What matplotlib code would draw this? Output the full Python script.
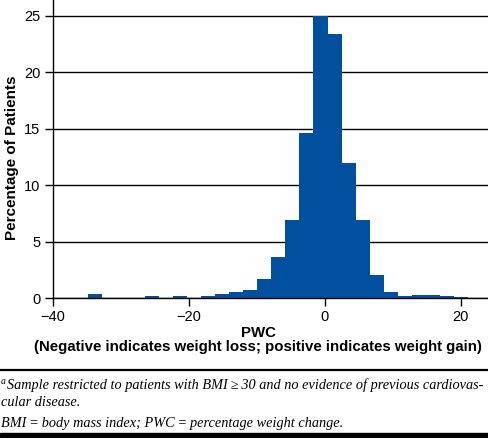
import matplotlib
matplotlib.use("Agg")
import matplotlib.pyplot as plt
from matplotlib.lines import Line2D
from matplotlib.patches import Rectangle

# Histogram of percentage weight change (bin centres, % of patients)
bin_centers = [-33.77, -25.49, -21.35, -17.21, -15.14, -13.07, -11.00, -8.93,
               -6.86, -4.79, -2.72, -0.65, 1.43, 3.50, 5.57, 7.64, 9.71,
               11.78, 13.85, 15.92, 17.99, 20.06]
percentages = [0.33, 0.20, 0.20, 0.20, 0.33, 0.56, 0.74, 1.71,
               3.67, 6.95, 14.58, 25.0, 23.37, 12.0, 6.95, 2.07, 0.56,
               0.20, 0.30, 0.30, 0.20, 0.12]
bin_width = 2.08
x_ticks = [-40, -20, 0, 20]
y_ticks = [0, 5, 10, 15, 20, 25]

BAR = "#00509F"
plt.rcParams['font.family'] = ['Liberation Sans', 'DejaVu Sans']

fig = plt.figure(figsize=(4.88, 4.38), dpi=100)
ax = fig.add_axes([53 / 488, 140 / 438, 1 - 53 / 488, 298 / 438])

ax.bar(bin_centers, percentages, width=bin_width, color=BAR, linewidth=0,
       zorder=3)
ax.set_xlim(-40, 24)
ax.set_ylim(0, 26.4)
ax.set_xticks(x_ticks)
ax.set_yticks(y_ticks)
ax.yaxis.grid(True, color="black", linewidth=1.0, zorder=1)
ax.set_axisbelow(True)
for s in ["top", "right"]:
    ax.spines[s].set_visible(False)
for s in ["left", "bottom"]:
    ax.spines[s].set_linewidth(1.0)
    ax.spines[s].set_zorder(4)
ax.tick_params(axis="both", labelsize=10.5, length=5.5, width=1.0,
               color="black", labelcolor="black")
ax.tick_params(axis="y", pad=3.5)
ax.tick_params(axis="x", pad=3)

fig.text(12 / 488, 1 - 158 / 438, "Percentage of Patients", rotation=90,
         ha="center", va="center", fontsize=11, fontweight="bold")
fig.text(258 / 488, 1 - 333 / 438, "PWC", ha="center", va="center",
         fontsize=10.8, fontweight="bold")
fig.text(258 / 488, 1 - 347 / 438,
         "(Negative indicates weight loss; positive indicates weight gain)",
         ha="center", va="center", fontsize=10.8, fontweight="bold")

# separator lines
fig.add_artist(Line2D([0, 1], [1 - 370.3 / 438] * 2, color="black",
                      linewidth=1.6, transform=fig.transFigure))
fig.add_artist(Rectangle((0, 0), 1, 5.5 / 438, color="black",
                         transform=fig.transFigure))

serif = ['Liberation Serif', 'DejaVu Serif']
fig.text(1 / 488, 1 - 381 / 438, "a", fontsize=7, family=serif,
         style="italic", va="center", ha="left")
fig.text(7 / 488, 1 - 385 / 438,
         "Sample restricted to patients with BMI\u2009\u2265\u200930 and no evidence of previous cardiovas-",
         fontsize=10.3, family=serif, style="italic", va="center", ha="left")
fig.text(1 / 488, 1 - 402 / 438, "cular disease.", fontsize=10.3, family=serif,
         style="italic", va="center", ha="left")
fig.text(1 / 488, 1 - 423 / 438,
         "BMI\u2009=\u2009body mass index; PWC\u2009=\u2009percentage weight change.",
         fontsize=10.3, family=serif, style="italic", va="center", ha="left")

fig.savefig("out.png", dpi=100)
